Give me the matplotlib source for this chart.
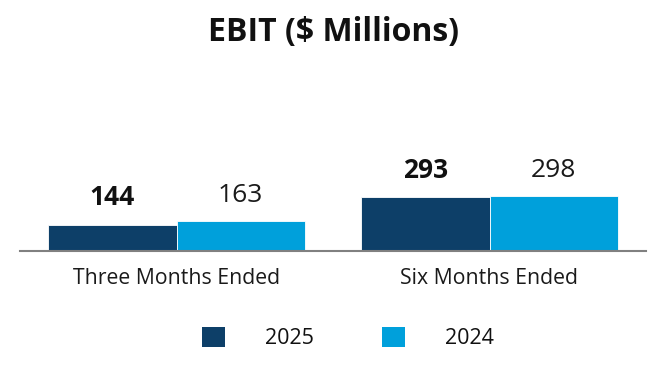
import matplotlib
matplotlib.use("Agg")
import matplotlib.pyplot as plt
import numpy as np
from matplotlib.patches import Patch

plt.rcParams['font.family'] = ['Open Sans', 'DejaVu Sans']

categories = ["Three Months Ended", "Six Months Ended"]
years = ["2025", "2024"]
values_2025 = [144, 293]
values_2024 = [163, 298]
colors = ["#0d3f68", "#00a0db"]

fig = plt.figure(figsize=(6.66, 3.80), dpi=100)
ax = fig.add_axes([20/666, 1-251/380, 626/666, 171/380])

x = np.arange(len(categories))
w = 0.409
b1 = ax.bar(x - w/2, values_2025, w, color=colors[0], edgecolor="white", linewidth=0.6)
b2 = ax.bar(x + w/2, values_2024, w, color=colors[1], edgecolor="white", linewidth=0.6)

for rect, v in zip(b1, values_2025):
    ax.annotate(str(v), (rect.get_x() + rect.get_width()/2, rect.get_height()),
                xytext=(0, 9.5), textcoords="offset points", ha="center", va="bottom",
                fontsize=19, fontweight="bold", color="#111111")
for rect, v in zip(b2, values_2024):
    ax.annotate(str(v), (rect.get_x() + rect.get_width()/2, rect.get_height()),
                xytext=(0, 9.5), textcoords="offset points", ha="center", va="bottom",
                fontsize=19, color="#1a1a1a")

ax.set_xlim(-0.5, 1.5)
ax.set_ylim(0, 935)
ax.set_xticks(x)
ax.set_xticklabels(categories, fontsize=15.3, color="#1a1a1a")
ax.tick_params(axis="x", length=0, pad=12)
ax.set_yticks([])
for s in ["top", "right", "left"]:
    ax.spines[s].set_visible(False)
ax.spines["bottom"].set_color("#808080")
ax.spines["bottom"].set_linewidth(1.5)

fig.text(0.5, 1-32/380, "EBIT ($ Millions)", ha="center", va="center",
         fontsize=23, fontweight="bold", color="#111111")

handles = [Patch(facecolor=colors[0]), Patch(facecolor=colors[1])]
fig.legend(handles, years, loc="center", bbox_to_anchor=(348/666, 1-338/380),
           ncol=2, frameon=False, fontsize=15.5, handlelength=1.05, handleheight=1.05,
           handletextpad=1.85, columnspacing=3.2, labelcolor="#111111")

fig.savefig("out.png", dpi=100)
